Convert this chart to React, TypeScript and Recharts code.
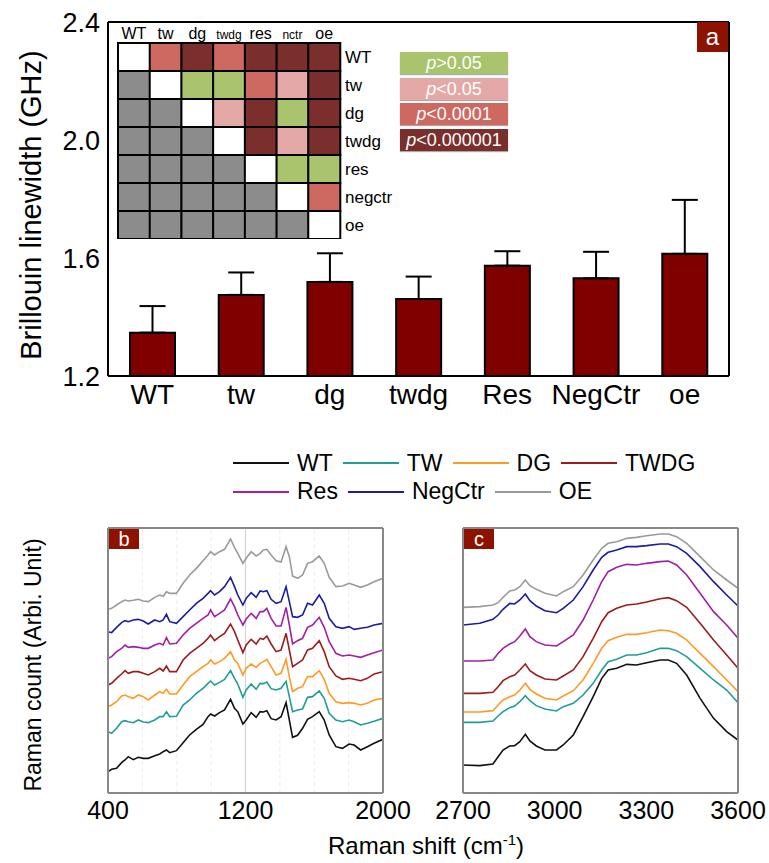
import React from 'react'
import { BarChart, Bar, XAxis, YAxis, ErrorBar, Cell, LineChart, Line, ReferenceLine } from 'recharts'

const FONT = '"Liberation Sans", Arial, Helvetica, sans-serif'
const TAG_RED = '#8e1200'

// (a) Brillouin linewidth per line, mean and upper SD in GHz
const GROUPS = ['WT', 'tw', 'dg', 'twdg', 'Res', 'NegCtr', 'oe']
const LINEWIDTH_MEAN = [1.347, 1.475, 1.519, 1.461, 1.574, 1.531, 1.614]
const LINEWIDTH_SD = [0.09, 0.076, 0.097, 0.076, 0.049, 0.09, 0.183]
const LINEWIDTH_TICKS = [1.2, 1.6, 2.0, 2.4]

// pairwise significance, rows top to bottom
const MATRIX_COLS = ['WT', 'tw', 'dg', 'twdg', 'res', 'nctr', 'oe']
const MATRIX_ROWS = ['WT', 'tw', 'dg', 'twdg', 'res', 'negctr', 'oe']
const P_MATRIX = [
  ['self', 'p4', 'p6', 'p4', 'p6', 'p6', 'p6'],
  ['none', 'self', 'ns', 'ns', 'p4', 'p2', 'p6'],
  ['none', 'none', 'self', 'p2', 'p6', 'ns', 'p6'],
  ['none', 'none', 'none', 'self', 'p6', 'p2', 'p6'],
  ['none', 'none', 'none', 'none', 'self', 'ns', 'ns'],
  ['none', 'none', 'none', 'none', 'none', 'self', 'p4'],
  ['none', 'none', 'none', 'none', 'none', 'none', 'self'],
]
const P_LEVELS = ['ns', 'p2', 'p4', 'p6']
const P_LEVEL_TEXT = ['>0.05', '<0.05', '<0.0001', '<0.000001']
const P_COLORS: Record<string, string> = {
  self: '#ffffff',
  none: '#8c8c8c',
  ns: '#a9c46c',
  p2: '#e4a9a6',
  p4: '#ce6962',
  p6: '#7a2f2d',
}

// (b, c) Raman spectra, stacked, arbitrary units
const SERIES = ['WT', 'TW', 'DG', 'TWDG', 'Res', 'NegCtr', 'OE']
const SERIES_COLORS = ['#111111', '#1f9d99', '#ff9a22', '#9c1c1c', '#a01fa6', '#1c1ca0', '#9a9a9a']

const SHIFT_FP = [
  400, 421, 450, 479, 499, 518, 547, 576, 605, 634, 672, 701, 721, 740, 759, 798, 837, 875, 914, 953,
  982, 997, 1020, 1049, 1078, 1113, 1136, 1155, 1185, 1204, 1233, 1262, 1285, 1304, 1324, 1349, 1378,
  1407, 1436, 1455, 1474, 1503, 1532, 1561, 1590, 1629, 1658, 1687, 1726, 1764, 1803, 1832, 1870, 1909,
  1948, 2000,
]
const FP_WT = [
  64, 71, 74, 91, 99, 109, 100, 107, 104, 104, 112, 117, 124, 129, 121, 127, 151, 174, 191, 206, 229, 237,
  231, 241, 249, 281, 254, 244, 207, 219, 241, 227, 244, 243, 247, 223, 219, 229, 271, 219, 167, 173, 194,
  221, 229, 244, 219, 174, 139, 134, 147, 144, 129, 139, 149, 161,
]
const FP_TW = [
  184, 179, 194, 214, 217, 214, 211, 219, 213, 211, 219, 229, 229, 244, 229, 230, 264, 279, 299, 314, 329,
  336, 324, 332, 341, 367, 344, 327, 287, 309, 327, 311, 329, 328, 333, 313, 309, 314, 335, 289, 244, 249,
  252, 287, 289, 306, 284, 239, 219, 214, 219, 214, 204, 209, 215, 224,
]
const FP_DG = [
  259, 264, 274, 291, 294, 289, 284, 294, 289, 279, 294, 304, 299, 311, 297, 297, 324, 349, 364, 379, 389,
  399, 387, 394, 404, 424, 399, 389, 354, 374, 387, 377, 389, 394, 401, 379, 354, 359, 401, 349, 304, 314,
  319, 349, 349, 367, 341, 299, 274, 269, 271, 269, 264, 269, 279, 284,
]
const FP_TWDG = [
  324, 329, 344, 357, 367, 359, 364, 364, 359, 354, 364, 374, 366, 381, 364, 364, 399, 419, 434, 449, 464,
  474, 457, 469, 479, 507, 484, 459, 421, 444, 461, 447, 464, 461, 471, 447, 424, 429, 479, 429, 379, 389,
  399, 429, 434, 457, 424, 379, 351, 341, 344, 341, 337, 344, 357, 364,
]
const FP_RES = [
  404, 409, 424, 434, 444, 437, 439, 437, 434, 434, 444, 449, 444, 466, 447, 449, 474, 494, 509, 524, 534,
  549, 529, 539, 549, 582, 559, 534, 504, 522, 539, 524, 544, 544, 554, 524, 501, 501, 557, 504, 447, 457,
  464, 497, 504, 527, 497, 454, 419, 411, 414, 411, 407, 414, 421, 429,
]
const FP_NEGCTR = [
  484, 481, 497, 511, 517, 514, 519, 521, 516, 507, 519, 514, 519, 536, 514, 509, 529, 549, 569, 584, 599,
  607, 594, 604, 619, 647, 619, 594, 564, 584, 601, 587, 606, 604, 607, 581, 569, 574, 619, 574, 529, 527,
  534, 569, 564, 594, 569, 524, 499, 494, 499, 491, 494, 497, 504, 509,
]
const FP_OE = [
  551, 554, 564, 574, 579, 576, 578, 581, 576, 574, 587, 594, 590, 604, 599, 599, 629, 654, 674, 697, 714,
  724, 714, 724, 731, 762, 737, 719, 689, 704, 724, 711, 719, 729, 731, 714, 697, 693, 739, 709, 651, 644,
  654, 689, 694, 711, 689, 647, 619, 621, 629, 624, 617, 624, 634, 644,
]

const SHIFT_HW = [
  2700, 2755, 2798, 2815, 2831, 2853, 2869, 2886, 2904, 2919, 2940, 2968, 3006, 3028, 3061, 3093, 3126,
  3154, 3175, 3203, 3236, 3268, 3301, 3345, 3372, 3399, 3432, 3476, 3520, 3563, 3600,
]
const HW_WT = [84, 82, 87, 109, 129, 141, 142, 154, 176, 156, 141, 129, 129, 144, 174, 229, 289, 344, 369, 374, 386, 384, 391, 399, 399, 389, 354, 284, 224, 184, 159]
const HW_TW = [212, 212, 216, 231, 244, 256, 261, 274, 292, 277, 262, 252, 246, 259, 269, 294, 329, 369, 394, 401, 414, 414, 421, 434, 434, 427, 409, 374, 339, 309, 271]
const HW_DG = [243, 243, 247, 264, 279, 289, 294, 309, 329, 311, 297, 284, 279, 291, 307, 339, 389, 434, 457, 467, 476, 476, 481, 489, 487, 479, 459, 419, 379, 339, 304]
const HW_TWDG = [299, 299, 302, 319, 337, 349, 354, 369, 387, 367, 354, 342, 339, 351, 369, 409, 464, 514, 541, 554, 564, 567, 573, 583, 586, 577, 557, 509, 459, 414, 374]
const HW_RES = [396, 396, 399, 419, 434, 447, 454, 471, 492, 469, 454, 444, 441, 454, 474, 519, 579, 634, 664, 677, 686, 684, 689, 694, 696, 684, 654, 599, 544, 504, 464]
const HW_NEGCTR = [504, 509, 521, 534, 551, 569, 567, 579, 597, 577, 561, 547, 541, 554, 579, 619, 669, 707, 722, 729, 739, 739, 742, 747, 747, 739, 719, 679, 634, 594, 561]
const HW_OE = [557, 559, 564, 571, 587, 606, 609, 619, 639, 622, 611, 599, 591, 604, 619, 654, 699, 734, 749, 754, 764, 767, 772, 777, 777, 769, 749, 709, 669, 639, 614]

const INTENSITY_DOMAIN = [0, 795]
const FP_TICKS = [400, 1200, 2000]
const FP_GRID_MINOR = [600, 800, 1000, 1400, 1600, 1800]
const FP_GRID_MAJOR = [1200]
const HW_TICKS = [2700, 3000, 3300, 3600]

function Tag({ letter, left, top, w, h, size }: { letter: string; left: number; top: number; w: number; h: number; size: number }) {
  return (
    <div
      style={{
        position: 'absolute', left, top, width: w, height: h, background: TAG_RED, color: '#fff',
        fontSize: size, lineHeight: `${h}px`, textAlign: 'center', fontFamily: FONT,
      }}
    >
      {letter}
    </div>
  )
}

function LinewidthPanel() {
  const data = GROUPS.map((name, i) => ({ name, mean: LINEWIDTH_MEAN[i], err: [0, LINEWIDTH_SD[i]] }))
  const frame = { stroke: '#000', strokeWidth: 2 }
  // the top and right axes only draw the box; a 1px axis is the smallest one recharts will render
  return (
    <div style={{ position: 'absolute', left: 0, top: 0 }}>
      <BarChart width={769} height={420} data={data} margin={{ top: 21, right: 39, bottom: 0, left: 50 }}>
        <XAxis
          dataKey="name"
          height={44}
          interval={0}
          tickLine={false}
          axisLine={frame}
          tick={{ fontSize: 28, fill: '#000', fontFamily: FONT }}
        />
        <XAxis xAxisId="top" orientation="top" dataKey="name" height={1} tick={false} tickLine={false} axisLine={frame} />
        <YAxis
          type="number"
          domain={[1.2, 2.4]}
          ticks={LINEWIDTH_TICKS}
          allowDataOverflow
          width={58}
          tickLine={false}
          axisLine={frame}
          tickFormatter={(v: number) => v.toFixed(1)}
          tick={{ fontSize: 27, fill: '#000', fontFamily: FONT }}
        />
        <YAxis yAxisId="right" orientation="right" type="number" domain={[1.2, 2.4]} width={1} tick={false} tickLine={false} axisLine={frame} />
        <Bar dataKey="mean" fill="#800000" stroke="#000" strokeWidth={2} barSize={45} isAnimationActive={false}>
          <ErrorBar dataKey="err" direction="y" width={13} stroke="#000" strokeWidth={2} isAnimationActive={false} />
        </Bar>
      </BarChart>
    </div>
  )
}

function MatrixColTick(props: any) {
  const { x, y, payload } = props
  const small = payload.value === 'twdg' || payload.value === 'nctr'
  return (
    <text x={x} y={y} textAnchor="middle" fontSize={small ? 12 : 16} fontFamily={FONT} fill="#000">
      {payload.value}
    </text>
  )
}

function SignificanceMatrix() {
  const data = MATRIX_COLS.map((col) => {
    const d: Record<string, string | number> = { col }
    MATRIX_ROWS.forEach((_, ri) => {
      d[`r${ri}`] = 1
    })
    return d
  })
  // stacks grow upward, so the last row goes in first
  const order = MATRIX_ROWS.map((_, ri) => MATRIX_ROWS.length - 1 - ri)
  const rowTicks = MATRIX_ROWS.map((_, i) => i + 0.5)
  return (
    <div style={{ position: 'absolute', left: 100, top: 20 }}>
      <BarChart width={300} height={219} data={data} barCategoryGap={0} barGap={0} margin={{ top: 0, right: 0, bottom: 0, left: 18 }}>
        <XAxis
          dataKey="col"
          orientation="top"
          height={23}
          interval={0}
          axisLine={false}
          tickLine={false}
          tickSize={2}
          tickMargin={2}
          tick={<MatrixColTick />}
        />
        <YAxis
          type="number"
          orientation="right"
          domain={[0, MATRIX_ROWS.length]}
          ticks={rowTicks}
          width={60}
          axisLine={false}
          tickLine={false}
          tickSize={3}
          tickMargin={2}
          tickFormatter={(v: number) => MATRIX_ROWS[MATRIX_ROWS.length - 1 - Math.floor(v)]}
          tick={{ fontSize: 17, fill: '#000', fontFamily: FONT }}
        />
        {order.map((ri) => (
          <Bar key={ri} dataKey={`r${ri}`} stackId="m" stroke="#000" strokeWidth={2} isAnimationActive={false}>
            {MATRIX_COLS.map((_, ci) => (
              <Cell key={ci} fill={P_COLORS[P_MATRIX[ri][ci]]} />
            ))}
          </Bar>
        ))}
      </BarChart>
    </div>
  )
}

function PValueKey() {
  return (
    <div style={{ position: 'absolute', left: 400, top: 52, width: 108, fontFamily: FONT }}>
      {P_LEVELS.map((lvl, i) => (
        <div
          key={lvl}
          style={{
            height: 22, marginBottom: 3.6, background: P_COLORS[lvl], color: '#fff', fontSize: 18,
            lineHeight: '22px', textAlign: 'center', boxShadow: '0 1px 1px #aaa',
          }}
        >
          <i>p</i>
          {P_LEVEL_TEXT[i]}
        </div>
      ))}
    </div>
  )
}

function RamanPanel({
  left, shift, values, domain, ticks, minorGrid = [], majorGrid = [],
}: {
  left: number; shift: number[]; values: number[][]; domain: number[]; ticks: number[]; minorGrid?: number[]; majorGrid?: number[]
}) {
  const rows = shift.map((x, i) => {
    const r: Record<string, number> = { x }
    SERIES.forEach((s, k) => {
      r[s] = values[k][i]
    })
    return r
  })
  const frame = { stroke: '#888', strokeWidth: 2 }
  return (
    <div style={{ position: 'absolute', left, top: 520 }}>
      <LineChart width={353} height={320} data={rows} margin={{ top: 7, right: 29, bottom: 0, left: 47 }}>
        <XAxis
          type="number"
          dataKey="x"
          domain={domain}
          ticks={ticks}
          interval={0}
          allowDataOverflow
          height={47}
          tickLine={false}
          axisLine={frame}
          tick={{ fontSize: 25, fill: '#000', fontFamily: FONT }}
        />
        <XAxis xAxisId="top" orientation="top" type="number" dataKey="x" domain={domain} height={1} tick={false} tickLine={false} axisLine={frame} />
        <YAxis type="number" domain={INTENSITY_DOMAIN} width={1} tick={false} tickLine={false} axisLine={frame} />
        <YAxis yAxisId="right" orientation="right" type="number" domain={INTENSITY_DOMAIN} width={1} tick={false} tickLine={false} axisLine={frame} />
        {minorGrid.map((g) => (
          <ReferenceLine key={g} x={g} stroke="#ececec" strokeDasharray="4 3" />
        ))}
        {majorGrid.map((g) => (
          <ReferenceLine key={g} x={g} stroke="#d4d4d4" strokeWidth={1.2} />
        ))}
        {SERIES.map((s, k) => (
          <Line
            key={s}
            type="linear"
            dataKey={s}
            stroke={SERIES_COLORS[k]}
            strokeWidth={1.6}
            dot={false}
            activeDot={false}
            isAnimationActive={false}
          />
        ))}
      </LineChart>
    </div>
  )
}

function SeriesLegend() {
  const rows = [SERIES.slice(0, 4), SERIES.slice(4)]
  return (
    <div style={{ position: 'absolute', left: 233, top: 449, fontFamily: FONT, fontSize: 23, color: '#000' }}>
      {rows.map((row, ri) => (
        <div key={ri} style={{ display: 'flex', alignItems: 'center', height: 28.5 }}>
          {row.map((s) => {
            const k = SERIES.indexOf(s)
            return (
              <div key={s} style={{ display: 'flex', alignItems: 'center', marginRight: 10 }}>
                <div style={{ width: 56, height: 1.6, background: SERIES_COLORS[k] }} />
                <span style={{ marginLeft: 8 }}>{s}</span>
              </div>
            )
          })}
        </div>
      ))}
    </div>
  )
}

function Titles() {
  return (
    <svg width={769} height={863} style={{ position: 'absolute', left: 0, top: 0, pointerEvents: 'none' }} fontFamily={FONT}>
      <text transform="translate(41,205) rotate(-90)" textAnchor="middle" fontSize={29} fill="#000">
        Brillouin linewidth (GHz)
      </text>
      <text transform="translate(41,665) rotate(-90)" textAnchor="middle" fontSize={23} fill="#000">
        Raman count (Arbi. Unit)
      </text>
      <text x={426} y={854} textAnchor="middle" fontSize={24} fill="#000">
        Raman shift (cm
        <tspan dy={-9} fontSize={15}>-1</tspan>
        <tspan dy={9}>)</tspan>
      </text>
    </svg>
  )
}

export default function App() {
  return (
    <div style={{ position: 'absolute', left: 0, top: 0, width: 769, height: 863, background: '#fff', overflow: 'hidden', fontFamily: FONT }}>
      <Titles />
      <LinewidthPanel />
      <SignificanceMatrix />
      <PValueKey />
      <Tag letter="a" left={697} top={22} w={31} h={30} size={24} />
      <SeriesLegend />
      <RamanPanel
        left={60}
        shift={SHIFT_FP}
        values={[FP_WT, FP_TW, FP_DG, FP_TWDG, FP_RES, FP_NEGCTR, FP_OE]}
        domain={[400, 2000]}
        ticks={FP_TICKS}
        minorGrid={FP_GRID_MINOR}
        majorGrid={FP_GRID_MAJOR}
      />
      <RamanPanel
        left={415}
        shift={SHIFT_HW}
        values={[HW_WT, HW_TW, HW_DG, HW_TWDG, HW_RES, HW_NEGCTR, HW_OE]}
        domain={[2700, 3600]}
        ticks={HW_TICKS}
      />
      <Tag letter="b" left={109} top={529} w={30} h={20} size={20} />
      <Tag letter="c" left={464} top={529} w={30} h={20} size={20} />
    </div>
  )
}
